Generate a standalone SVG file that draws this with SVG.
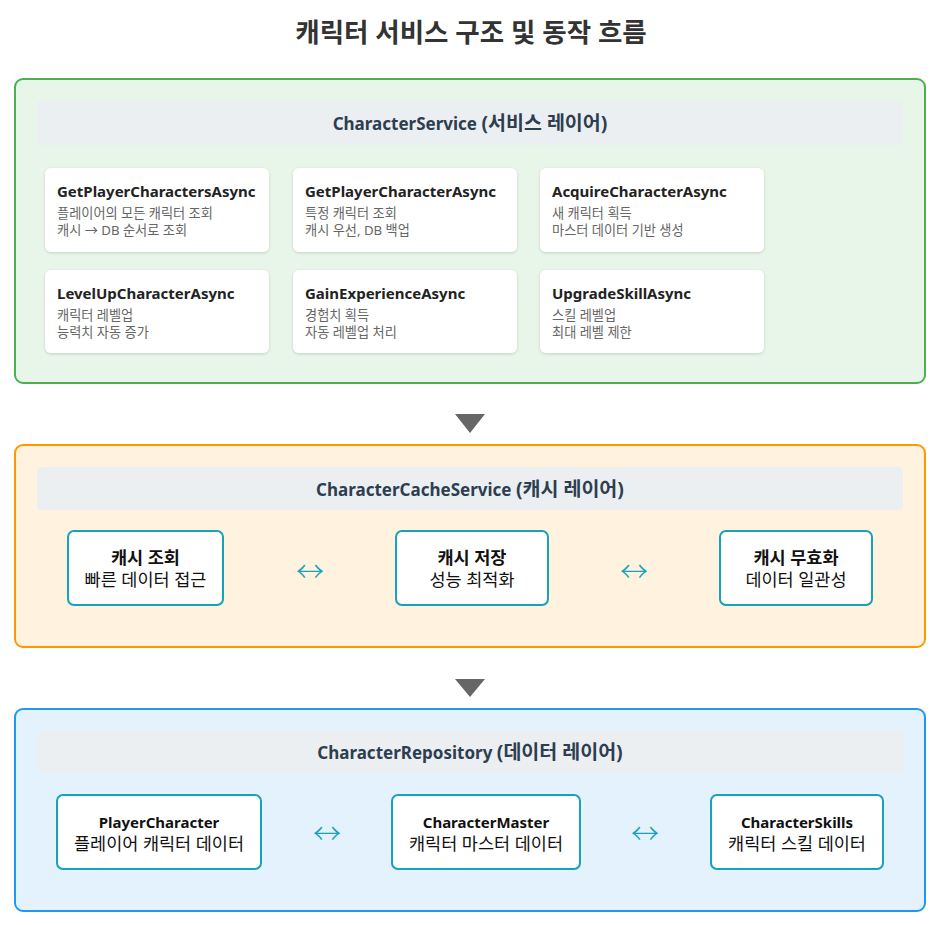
<svg xmlns="http://www.w3.org/2000/svg" width="942" height="925" viewBox="0 0 942 925">
<defs>
<filter id="sh" x="-10%" y="-10%" width="120%" height="130%">
<feDropShadow dx="0" dy="1" stdDeviation="1.5" flood-color="#000" flood-opacity="0.15"/>
</filter>
</defs>
<style>
text{font-family:"Noto Sans","Noto Sans CJK KR",sans-serif;}
.title{font-size:26.5px;font-weight:bold;fill:#333;text-anchor:middle;}
.hdr{font-size:17px;font-weight:bold;fill:#2c3e50;text-anchor:middle;}
.k{font-size:19.5px;}
.bar{fill:#eceff1;}
.card{fill:#fff;filter:url(#sh);}
.ct{font-size:15px;font-weight:bold;fill:#222;}
.cs{font-size:13.2px;fill:#666;}
.box{fill:#fff;stroke:#17a2b8;stroke-width:2;}
.bt{font-size:15px;font-weight:bold;fill:#111;text-anchor:middle;}
.bk{font-size:17.5px;}
.bs{font-size:17.5px;fill:#111;text-anchor:middle;}
.lr{font-size:28px;font-weight:300;fill:#17a2b8;text-anchor:middle;}
.tri{fill:#666;}
</style>
<rect width="942" height="925" fill="#fff"/>
<text class="title" x="471" y="42">캐릭터 서비스 구조 및 동작 흐름</text>

<g id="service-layer">
<rect x="15" y="79" width="910" height="304" rx="8" fill="#e8f5e9" stroke="#4caf50" stroke-width="2"/>
<rect class="bar" x="37" y="101" width="866" height="44" rx="4"/>
<text class="hdr" x="470" y="130">CharacterService <tspan class="k">(서비스 레이어)</tspan></text>
</g>
<g id="getPlayerCharacters">
<rect class="card" x="45" y="168" width="224" height="84" rx="6"/>
<text class="ct" x="57" y="197">GetPlayerCharactersAsync</text>
<text class="cs" x="57" y="218">플레이어의 모든 캐릭터 조회</text>
<text class="cs" x="57" y="235">캐시 → DB 순서로 조회</text>
</g>
<g id="getPlayerCharacter">
<rect class="card" x="293" y="168" width="224" height="84" rx="6"/>
<text class="ct" x="305" y="197">GetPlayerCharacterAsync</text>
<text class="cs" x="305" y="218">특정 캐릭터 조회</text>
<text class="cs" x="305" y="235">캐시 우선, DB 백업</text>
</g>
<g id="acquireCharacter">
<rect class="card" x="540" y="168" width="224" height="84" rx="6"/>
<text class="ct" x="552" y="197">AcquireCharacterAsync</text>
<text class="cs" x="552" y="218">새 캐릭터 획득</text>
<text class="cs" x="552" y="235">마스터 데이터 기반 생성</text>
</g>
<g id="levelUpCharacter">
<rect class="card" x="45" y="270" width="224" height="83" rx="6"/>
<text class="ct" x="57" y="299">LevelUpCharacterAsync</text>
<text class="cs" x="57" y="320">캐릭터 레벨업</text>
<text class="cs" x="57" y="337">능력치 자동 증가</text>
</g>
<g id="gainExperience">
<rect class="card" x="293" y="270" width="224" height="83" rx="6"/>
<text class="ct" x="305" y="299">GainExperienceAsync</text>
<text class="cs" x="305" y="320">경험치 획득</text>
<text class="cs" x="305" y="337">자동 레벨업 처리</text>
</g>
<g id="upgradeSkill">
<rect class="card" x="540" y="270" width="224" height="83" rx="6"/>
<text class="ct" x="552" y="299">UpgradeSkillAsync</text>
<text class="cs" x="552" y="320">스킬 레벨업</text>
<text class="cs" x="552" y="337">최대 레벨 제한</text>
</g>

<g id="cache-layer">
<rect x="15" y="445" width="910" height="202" rx="8" fill="#fff3e0" stroke="#ff9800" stroke-width="2"/>
<rect class="bar" x="37" y="467" width="866" height="43" rx="4"/>
<text class="hdr" x="470" y="496">CharacterCacheService <tspan class="k">(캐시 레이어)</tspan></text>
</g>
<g id="cacheGet">
<rect class="box" x="68" y="531" width="155" height="74" rx="6"/>
<text class="bt bk" x="145.5" y="564">캐시 조회</text>
<text class="bs" x="145.5" y="586">빠른 데이터 접근</text>
</g>
<g id="cacheSet">
<rect class="box" x="396" y="531" width="152" height="74" rx="6"/>
<text class="bt bk" x="472" y="564">캐시 저장</text>
<text class="bs" x="472" y="586">성능 최적화</text>
</g>
<g id="cacheInvalidate">
<rect class="box" x="720" y="531" width="152" height="74" rx="6"/>
<text class="bt bk" x="796" y="564">캐시 무효화</text>
<text class="bs" x="796" y="586">데이터 일관성</text>
</g>

<g id="data-layer">
<rect x="15" y="709" width="910" height="202" rx="8" fill="#e3f2fd" stroke="#2196f3" stroke-width="2"/>
<rect class="bar" x="37" y="731" width="866" height="42" rx="4"/>
<text class="hdr" x="470" y="759">CharacterRepository <tspan class="k">(데이터 레이어)</tspan></text>
</g>
<g id="playerCharacter">
<rect class="box" x="57" y="795" width="204" height="74" rx="6"/>
<text class="bt" x="159" y="828">PlayerCharacter</text>
<text class="bs" x="159" y="850">플레이어 캐릭터 데이터</text>
</g>
<g id="characterMaster">
<rect class="box" x="392" y="795" width="188" height="74" rx="6"/>
<text class="bt" x="486" y="828">CharacterMaster</text>
<text class="bs" x="486" y="850">캐릭터 마스터 데이터</text>
</g>
<g id="characterSkills">
<rect class="box" x="711" y="795" width="172" height="74" rx="6"/>
<text class="bt" x="797" y="828">CharacterSkills</text>
<text class="bs" x="797" y="850">캐릭터 스킬 데이터</text>
</g>

<g id="connectors">
<polygon class="tri" points="455,414 485,414 470,433"/>
<polygon class="tri" points="455,679 485,679 470,697"/>
<text class="lr" x="310" y="582">↔</text>
<text class="lr" x="634" y="582">↔</text>
<text class="lr" x="327" y="844">↔</text>
<text class="lr" x="645" y="844">↔</text>
</g>
</svg>
